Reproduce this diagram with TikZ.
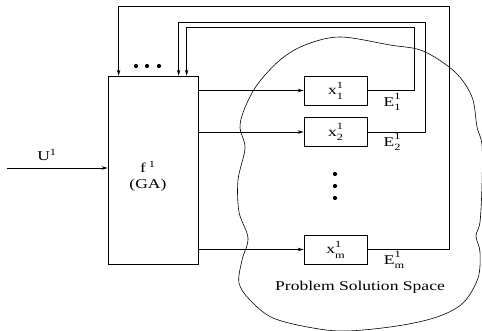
\documentclass[tikz,border=0pt]{standalone}
\usepackage{fontspec}
\setmainfont{Liberation Serif}
\usepackage{graphicx}
\usepackage{tikz}
\usetikzlibrary{arrows.meta}

\newcommand{\wide}[1]{\scalebox{1.3}[1]{#1}}
\newcommand{\supsub}[3]{#1\rlap{\raisebox{6.5pt}{\fontsize{9.5}{10}\selectfont #2}}%
  \raisebox{-4.5pt}{\fontsize{9.5}{10}\selectfont #3}}

\begin{document}
\begin{tikzpicture}[x=1pt, y=-1pt, line width=0.7pt,
  blk/.style={draw, inner sep=0pt, font=\fontsize{13.5}{16}\selectfont},
  lbl/.style={inner sep=0pt, font=\fontsize{13.5}{16}\selectfont},
  arr/.style={-{Stealth[length=6pt, width=3.5pt]}},
  dot/.style={circle, fill, inner sep=0pt, minimum size=4.2pt}]
  \useasboundingbox (0,0) rectangle (482,331);
  % Problem solution space (cloud)
  \draw[line width=0.6pt] plot[smooth cycle, tension=0.55] coordinates {
    (340,37) (390,45) (423,51) (455,72) (472,97) (477,127) (482,145)
    (482,185) (480,222) (476,236) (480,252) (478,278) (463,303) (437,317)
    (397,326) (347,331) (313,328) (273,318) (250,300) (239,283) (242,260)
    (248,238) (239,212) (238,180) (245,148) (240,128) (244,110) (257,85)
    (280,60) (305,45)};
  \node[lbl] (pss) at (360,287) {\wide{Problem Solution Space}};
  % Blocks
  \node[blk, minimum width=90, minimum height=188] (f) at (153,170) {};
  \node[lbl] (flab) at (148,167) {\wide{f\,\textsuperscript{1}}};
  \node[lbl] (ga) at (148,185) {\wide{(GA)}};
  \node[blk, minimum width=63, minimum height=29] (x1) at (335.5,90.5) {\wide{\supsub{x}{1}{1}}};
  \node[blk, minimum width=63, minimum height=29] (x2) at (335.5,132) {\wide{\supsub{x}{1}{2}}};
  \node[blk, minimum width=63, minimum height=29] (xm) at (335.5,249.5) {\wide{\supsub{x}{1}{m}}};
  % Input
  \coordinate (uin) at (7,168);
  \draw[arr] (uin) -- (uin -| f.west);
  \node[lbl] (u) at (47,155) {\wide{U\textsuperscript{1}}};
  % GA to solutions
  \draw[arr] (f.east |- x1) -- (x1);
  \draw[arr] (f.east |- x2) -- (x2);
  \draw[arr] (f.east |- xm) -- (xm);
  % Evaluations back to GA
  \coordinate (r1) at (414,27);
  \coordinate (r2) at (425,22);
  \coordinate (rm) at (449,6);
  \coordinate (t1) at ([xshift=79]f.north west);
  \coordinate (t2) at ([xshift=71]f.north west);
  \coordinate (tm) at ([xshift=11]f.north west);
  \draw[arr] (x1.east) -| (r1) -| (t1);
  \draw[arr] (x2.east) -| (r2) -| (t2);
  \draw[arr] (xm.east) -| (rm) -| (tm);
  \node[lbl] (e1) at (392,102) {\wide{\supsub{E}{1}{1}}};
  \node[lbl] (e2) at (392,142) {\wide{\supsub{E}{1}{2}}};
  \node[lbl] (em) at (394,260) {\wide{\supsub{E}{1}{m}}};
  % Dots
  \foreach \xd in {136,147,159} \node[dot] at (\xd,66) {};
  \foreach \yd in {174,186,198} \node[dot] at (335,\yd) {};
\end{tikzpicture}
\end{document}
